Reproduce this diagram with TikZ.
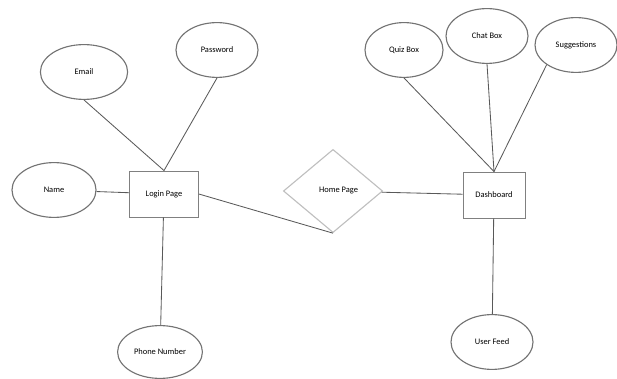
\documentclass[tikz,border=0pt]{standalone}
\usepackage{fontspec}
\setmainfont{Carlito}
\usepackage{xcolor}
\usepackage{tikz}
\usetikzlibrary{shapes,arrows,positioning,calc}

\begin{document}
\begin{tikzpicture}[x=0.025cm,y=-0.025cm,
        font=\fontsize{6}{7}\selectfont,
        attr/.style={ellipse, draw=black!55, thick, minimum width=2.05cm, minimum height=1.37cm, inner sep=0pt},
        entity/.style={rectangle, draw=black!50, semithick, minimum height=1.15cm, inner sep=2pt},
        rel/.style={diamond, draw=black!25, thick, minimum width=2.48cm, minimum height=2.08cm, inner sep=0pt},
        link/.style={draw=black!65, semithick}]
        \useasboundingbox (0,0) rectangle (617,379);

        % Entities
        \node[entity, minimum width=1.72cm] (login) at (164,194) {Login Page};
        \node[entity, minimum width=1.55cm] (dash) at (494,195) {Dashboard};
        \node[rel] (home) at (333,191) {\hspace{8pt}Home Page};

        % Login attributes
        \node[attr, minimum width=2.18cm] (email) at (84,72) {Email};
        \node[attr] (pass) at (217,50) {Password};
        \node[attr, minimum width=2.1cm] (name) at (54,190) {Name};
        \node[attr, minimum width=2.12cm, minimum height=1.32cm] (phone) at (160,352) {Phone Number};

        % Dashboard attributes
        \node[attr, minimum width=1.95cm] (quiz) at (404,50) {Quiz Box};
        \node[attr] (chat) at (487,36) {Chat Box};
        \node[attr] (sugg) at (576,45) {Suggestions};
        \node[attr] (feed) at (492,342) {User Feed};

        % Connectors
        \draw[link] (email.south) -- (login.north);
        \draw[link] (pass.south) -- (login.north);
        \draw[link] (name) -- (login);
        \draw[link] (login) -- (phone);
        \draw[link] (login.east) -- (home.south);
        \draw[link] (home) -- (dash);
        \draw[link] (quiz.south) -- (dash.north);
        \draw[link] (chat.south) -- (dash.north);
        \draw[link] (sugg.south west) -- (dash.north);
        \draw[link] (dash) -- (feed);
\end{tikzpicture}
\end{document}
